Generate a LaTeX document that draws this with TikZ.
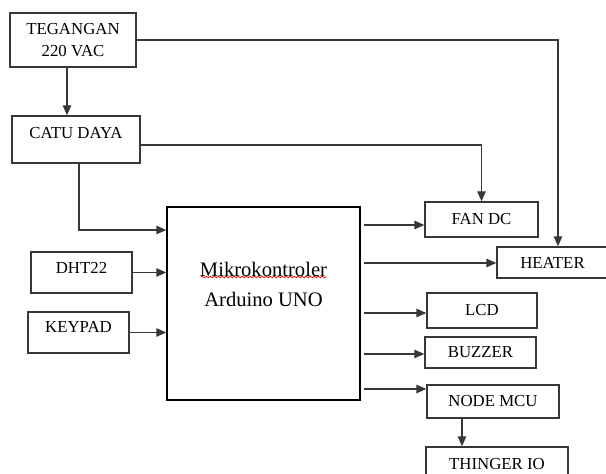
\documentclass[tikz,border=0pt]{standalone}
\usepackage{fontspec}
\setmainfont{Liberation Serif}
\usetikzlibrary{arrows.meta,positioning,decorations.pathmorphing}
\definecolor{LineGray}{RGB}{55,55,55}
\tikzset{
  blk/.style={draw=LineGray,line width=0.65pt,inner sep=1pt,align=center,
    font=\fontsize{8.4}{11}\selectfont},
  arr/.style={-{Triangle[length=5pt,width=4.2pt]},line width=0.65pt,LineGray},
  spell/.style={red,line width=0.35pt,decorate,
    decoration={snake,amplitude=0.45pt,segment length=2pt}}
}

\begin{document}
\begin{tikzpicture}[x=0.5pt,y=-0.5pt]

\clip (0,0) rectangle (606,474);
\fill[white] (0,0) rectangle (606,474);

% inputs
\node[blk,minimum width=63pt,minimum height=27pt] (teg) at (73,40)
  {TEGANGAN\\220 VAC};
\node[blk,minimum width=64pt,minimum height=23.5pt,text depth=6.5pt]
  (catu) at (76,139.5) {CATU DAYA};
\node[blk,minimum width=50.5pt,minimum height=20.5pt,text depth=4.5pt]
  (dht) at (81.5,272.5) {DHT22};
\node[blk,minimum width=50.5pt,minimum height=20.5pt,text depth=5.5pt]
  (key) at (78.5,332.5) {KEYPAD};

% controller
\node[draw=black,line width=0.65pt,minimum width=96.5pt,minimum height=96.5pt]
  (mcu) at (263.5,303.5) {};
\node[align=center,font=\fontsize{10.3}{15}\selectfont] (mcutxt) at (263.5,284)
  {Mikrokontroler\\Arduino UNO};
\draw[spell] (201,277) -- (327,277);

% outputs
\node[blk,minimum width=56.5pt,minimum height=17.5pt] (fan) at (481.5,219.5)
  {FAN DC};
\node[blk,minimum width=55.5pt,minimum height=15.5pt] (heat) at (552.5,262.5)
  {HEATER};
\node[blk,minimum width=55pt,minimum height=17.5pt] (lcd) at (482,310.5)
  {LCD};
\node[blk,minimum width=55.5pt,minimum height=15.5pt] (buzz) at (480.5,352.5)
  {BUZZER};
\node[blk,minimum width=66pt,minimum height=16.5pt] (nmcu) at (493,401.5)
  {NODE MCU};
\node[blk,minimum width=71pt,minimum height=17pt] (thing) at (497,464)
  {THINGER IO};

% power lines
\draw[arr] ([xshift=-3pt]teg.south) coordinate (t1) -- (t1 |- catu.north);
\draw[arr] (teg.east) -| ([xshift=2.75pt]heat.north);
\draw[arr] ([yshift=-2.75pt]catu.east) -| (fan.north);
\draw[arr] ([xshift=1.5pt]catu.south) |- ([yshift=36.75pt]mcu.west);

% sensor lines
\draw[arr] (dht.east) -- (dht.east -| mcu.west);
\draw[arr] (key.east) -- (key.east -| mcu.west);

% actuator lines
\draw[arr] ([xshift=1.5pt,yshift=39.25pt]mcu.east) coordinate (o1) -- (o1 -| fan.west);
\draw[arr] ([xshift=1.5pt,yshift=20.25pt]mcu.east) coordinate (o2) -- (o2 -| heat.west);
\draw[arr] ([xshift=1.5pt,yshift=-4.75pt]mcu.east) coordinate (o3) -- (o3 -| lcd.west);
\draw[arr] ([xshift=1.5pt,yshift=-25.25pt]mcu.east) coordinate (o4) -- (o4 -| buzz.west);
\draw[arr] ([xshift=1.5pt,yshift=-42.75pt]mcu.east) coordinate (o5) -- (o5 -| nmcu.west);
\draw[arr] ([xshift=-15.5pt]nmcu.south) coordinate (n1) -- (n1 |- thing.north);

\end{tikzpicture}
\end{document}
